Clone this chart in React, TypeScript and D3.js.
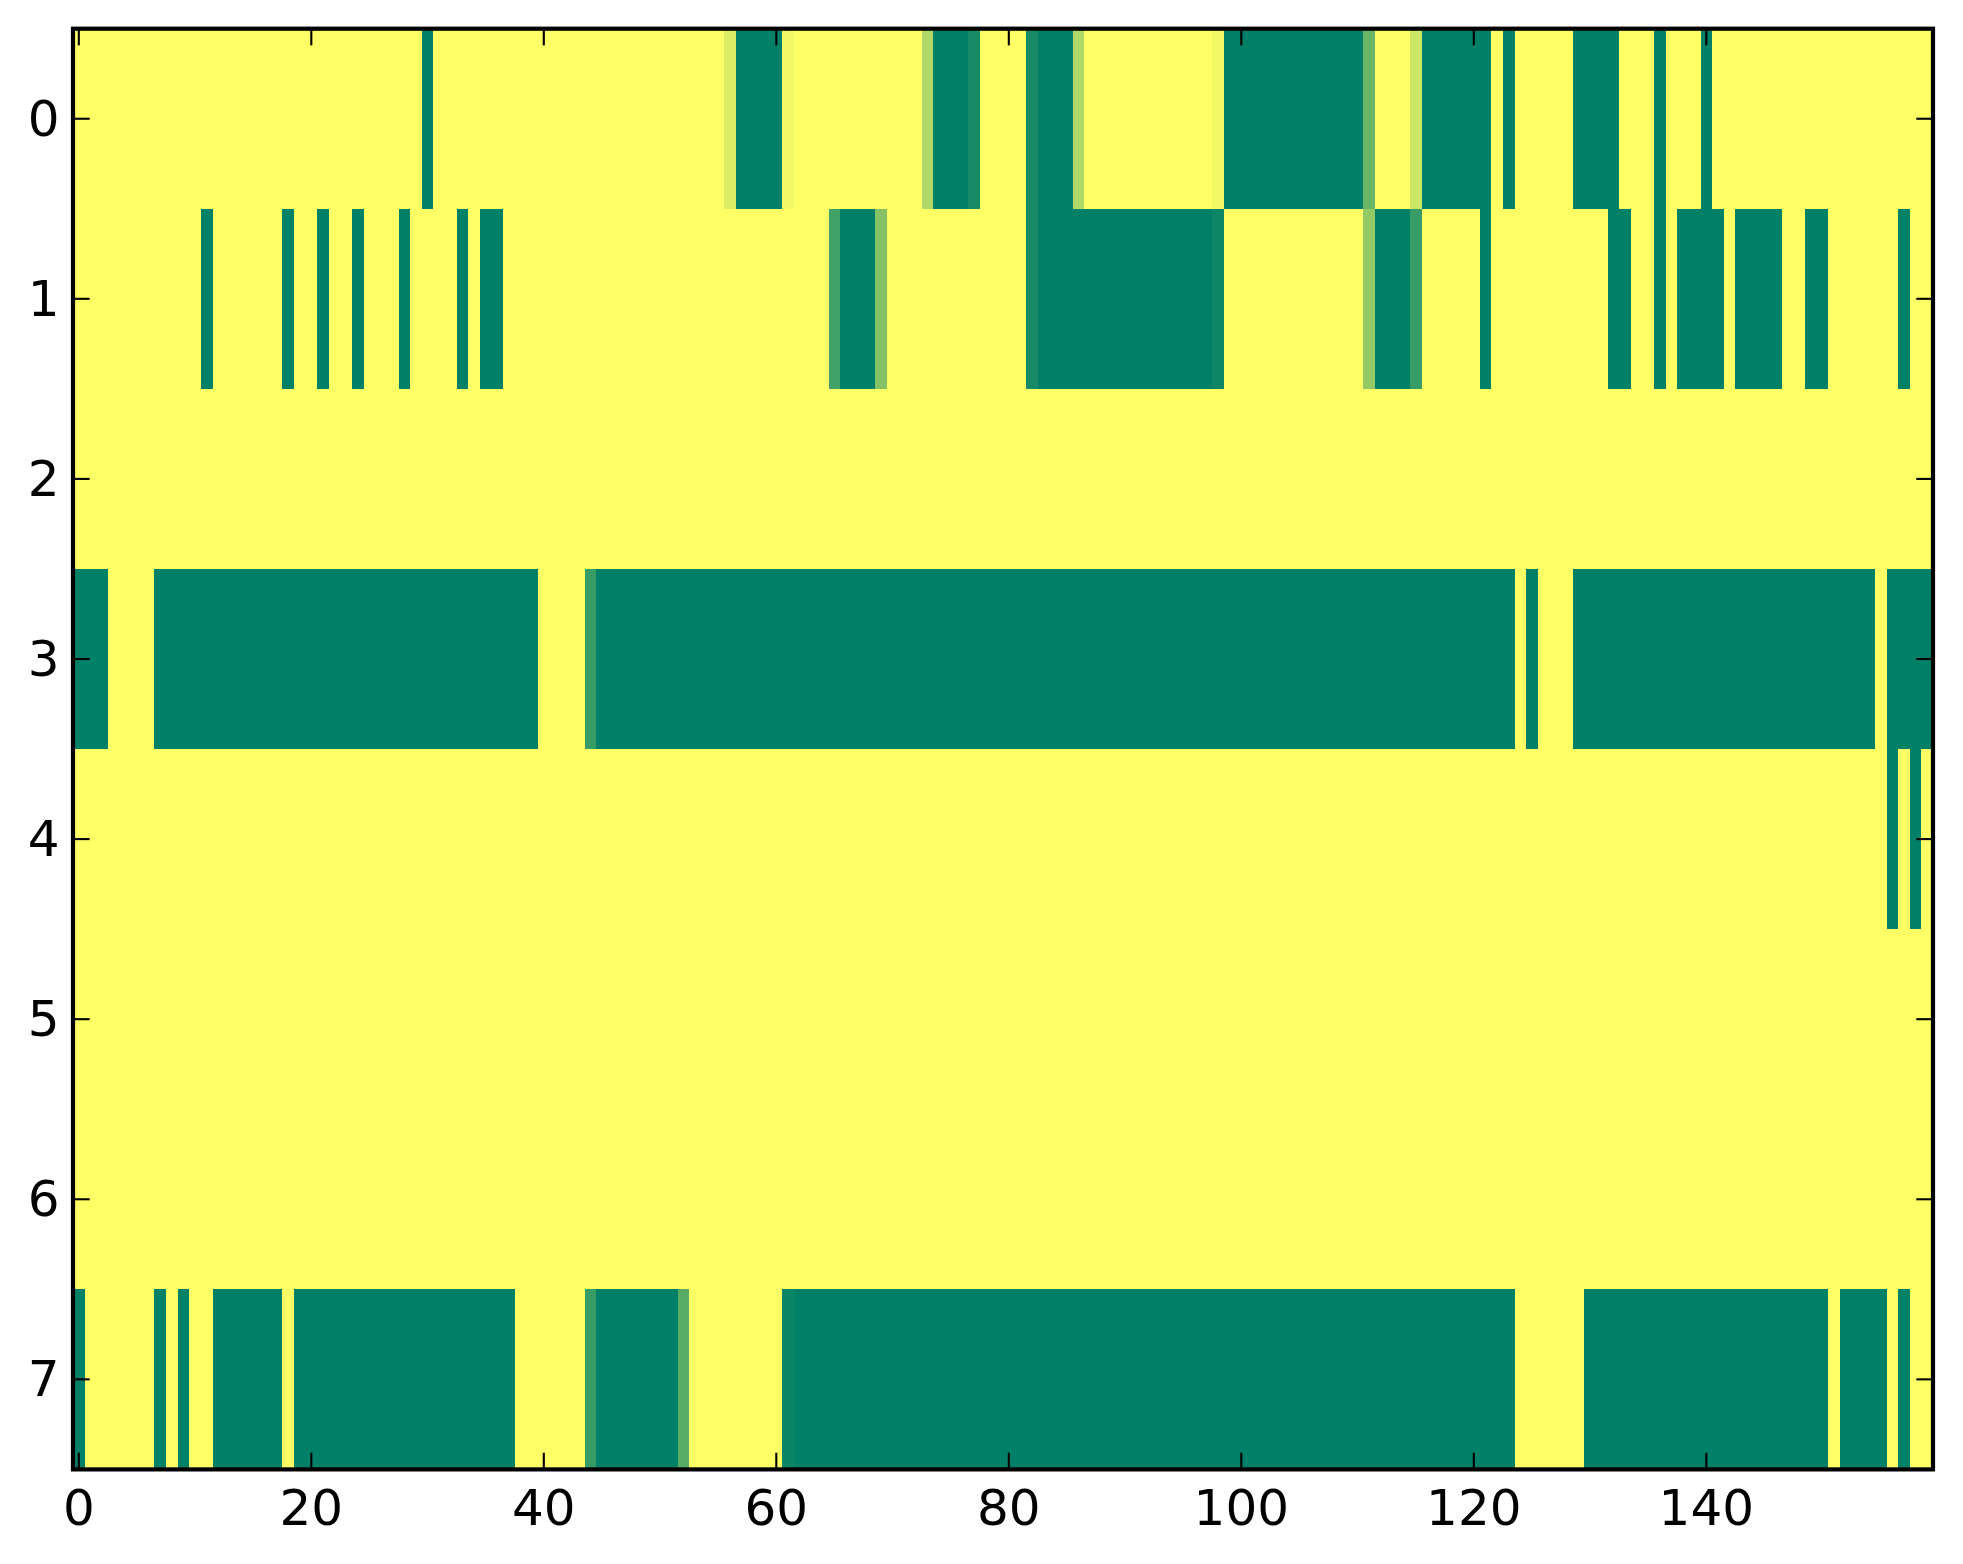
import React from "react";
import * as d3 from "d3";

// Grid size (rows x columns) of the heat map
const nRows = 8;
const nCols = 160;

// Non-default cells per row: [firstCol, lastCol, value]; all other cells are 1
type Seg = [number, number, number];
const row0: Seg[] = [
  [30, 30, 0], [56, 56, 0.85], [57, 60, 0], [61, 61, 0.95], [73, 73, 0.69], [74, 76, 0],
  [77, 77, 0.09], [82, 82, 0.09], [83, 85, 0], [86, 86, 0.69], [98, 98, 0.95], [99, 110, 0],
  [111, 111, 0.42], [115, 115, 0.8], [116, 121, 0], [123, 123, 0], [129, 132, 0], [136, 136, 0],
  [140, 140, 0],
];
const row1: Seg[] = [
  [11, 11, 0], [18, 18, 0], [21, 21, 0], [24, 24, 0], [28, 28, 0], [33, 33, 0], [35, 36, 0],
  [65, 65, 0.26], [66, 68, 0], [69, 69, 0.52], [82, 82, 0.09], [83, 97, 0], [98, 98, 0.05],
  [111, 111, 0.58], [112, 114, 0], [115, 115, 0.22], [121, 121, 0], [132, 133, 0], [136, 136, 0],
  [138, 141, 0], [143, 146, 0], [149, 150, 0], [157, 157, 0],
];
const row2: Seg[] = [];
const row3: Seg[] = [
  [0, 2, 0], [7, 39, 0], [44, 44, 0.22], [45, 123, 0], [125, 125, 0], [129, 154, 0], [156, 159, 0],
];
const row4: Seg[] = [[156, 156, 0], [158, 158, 0]];
const row5: Seg[] = [];
const row6: Seg[] = [];
const row7: Seg[] = [
  [0, 0, 0], [7, 7, 0], [9, 9, 0], [12, 17, 0], [19, 37, 0], [44, 44, 0.22], [45, 51, 0],
  [52, 52, 0.35], [61, 61, 0.04], [62, 123, 0], [130, 150, 0], [152, 155, 0], [157, 157, 0],
];
const rowsData: Seg[][] = [row0, row1, row2, row3, row4, row5, row6, row7];

const xTicks = [0, 20, 40, 60, 80, 100, 120, 140];
const yTicks = [0, 1, 2, 3, 4, 5, 6, 7];

// Build the matrix from the row segments
const matrix: number[][] = rowsData.map((segs) => {
  const r = new Array(nCols).fill(1);
  segs.forEach(([a, b, v]) => {
    for (let c = a; c <= b; c++) r[c] = v;
  });
  return r;
});

const W = 1963;
const H = 1564;
const left = 73;
const right = 1933;
const top = 28.7;
const bottom = 1469.4;

export default function App() {
  const x = d3.scaleLinear().domain([-0.5, nCols - 0.5]).range([left, right]);
  const y = d3.scaleLinear().domain([-0.5, nRows - 0.5]).range([top, bottom]);
  const color = d3
    .scaleLinear<string>()
    .domain([0, 1])
    .range(["#008066", "#ffff66"])
    .interpolate(d3.interpolateRgb);

  const tickLen = 16.7;
  const font = "'DejaVu Sans', sans-serif";

  const cells: React.ReactNode[] = [];
  matrix.forEach((row, ri) => {
    row.forEach((v, ci) => {
      const x0 = x(ci - 0.5);
      const x1 = x(ci + 0.5);
      const y0 = y(ri - 0.5);
      const y1 = y(ri + 0.5);
      cells.push(
        <rect
          key={`${ri}-${ci}`}
          x={x0}
          y={y0}
          width={x1 - x0 + 0.4}
          height={y1 - y0 + 0.4}
          fill={color(v)}
          shapeRendering="crispEdges"
        />
      );
    });
  });

  return (
    <svg
      width={W}
      height={H}
      style={{ position: "absolute", left: 0, top: 0, display: "block", background: "#fff" }}
    >
      <rect x={0} y={0} width={W} height={H} fill="#fff" />
      <g>{cells}</g>
      {/* x ticks top and bottom, inside */}
      {xTicks.map((t) => (
        <g key={`xt${t}`}>
          <line x1={x(t)} x2={x(t)} y1={bottom} y2={bottom - tickLen} stroke="#000" strokeWidth={2.1} />
          <line x1={x(t)} x2={x(t)} y1={top} y2={top + tickLen} stroke="#000" strokeWidth={2.1} />
          <text
            x={x(t)}
            y={1525}
            textAnchor="middle"
            fontFamily={font}
            fontSize={50}
            fill="#000"
          >
            {t}
          </text>
        </g>
      ))}
      {/* y ticks left and right, inside */}
      {yTicks.map((t) => (
        <g key={`yt${t}`}>
          <line x1={left} x2={left + tickLen} y1={y(t)} y2={y(t)} stroke="#000" strokeWidth={2.1} />
          <line x1={right} x2={right - tickLen} y1={y(t)} y2={y(t)} stroke="#000" strokeWidth={2.1} />
          <text
            x={59.5}
            y={y(t) + 16.8}
            textAnchor="end"
            fontFamily={font}
            fontSize={50}
            fill="#000"
          >
            {t}
          </text>
        </g>
      ))}
      <rect
        x={left}
        y={top}
        width={right - left}
        height={bottom - top}
        fill="none"
        stroke="#000"
        strokeWidth={4.2}
      />
    </svg>
  );
}
